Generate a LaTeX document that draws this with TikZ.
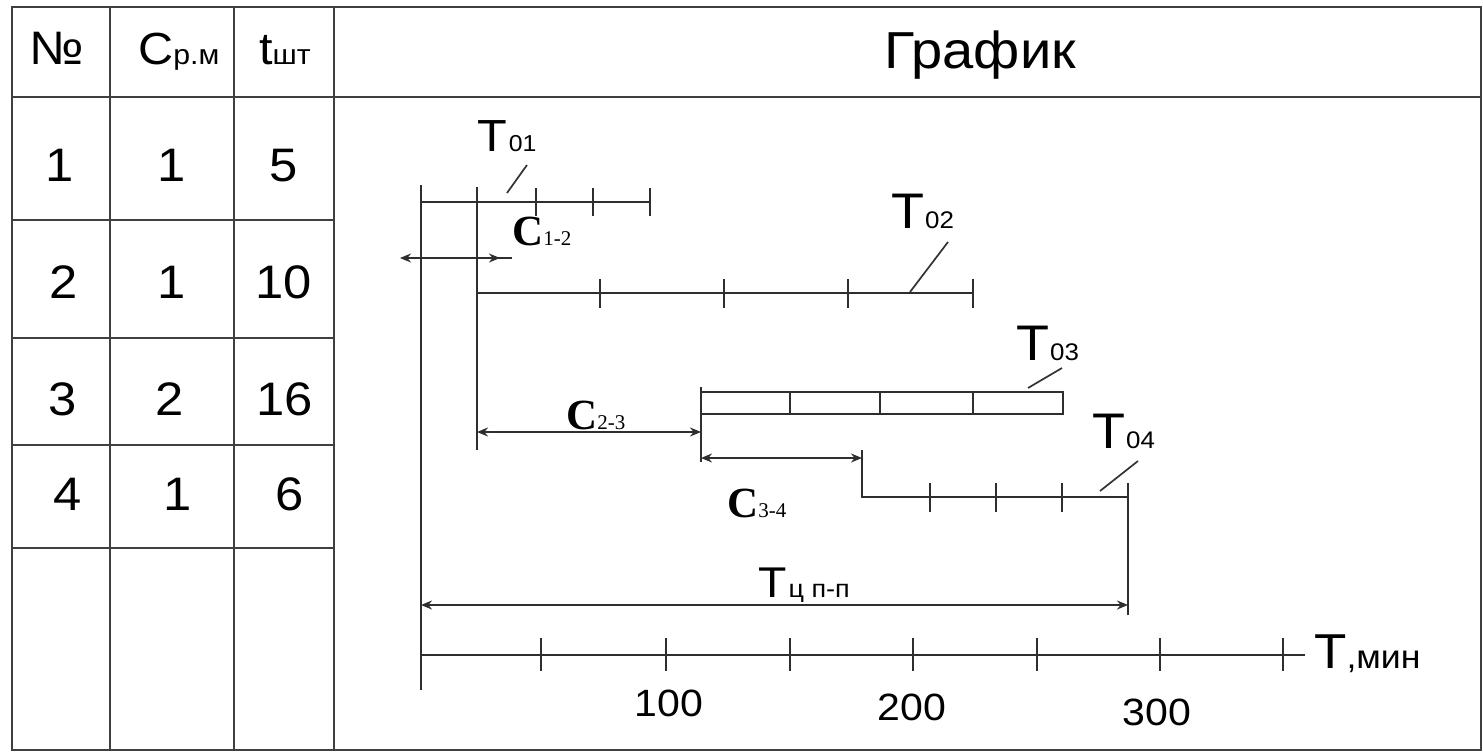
\documentclass[tikz,border=0pt]{standalone}
\usepackage{fontspec}
\setmainfont{Liberation Sans}[FakeStretch=1.08]
\newfontfamily\serifC{Liberation Serif}
\usetikzlibrary{arrows.meta}
\newcommand\fsz[1]{\fontsize{#1}{#1}\selectfont}
\begin{document}
\begin{tikzpicture}[x=1pt,y=-1pt,
  >={Stealth[length=11pt,width=9pt]},
  tbl/.style={draw=black!75,line width=2.6pt},
  ln/.style={draw=black!82,line width=2.2pt},
  tk/.style={draw=black!82,line width=2pt},
  dim/.style={ln,<->},
  lead/.style={draw=black!80,line width=1.7pt},
  cell/.style={inner sep=0pt,anchor=base,font=\fsz{47}},
  tl/.style={inner sep=0pt,anchor=base west,font=\fsz{50}},
  cl/.style={inner sep=0pt,anchor=base west,font=\serifC\bfseries\fsz{43}},
  num/.style={inner sep=0pt,anchor=base,font=\fsz{38}},
]
\useasboundingbox (0,0) rectangle (1483,752);
\fill[white] (0,0) rectangle (1483,752);
% ---------- table ----------
\draw[tbl] (12,7) rectangle (1481,750);
\draw[tbl] (12,97) -- (1481,97);
\foreach \yy in {220,338,445,548} \draw[tbl] (12,\yy) -- (334,\yy);
\foreach \xx in {110,234,334} \draw[tbl] (\xx,7) -- (\xx,750);
% header
\node[cell] (hno) at (57,65) {№};
\node[inner sep=0pt,anchor=base west,font=\fsz{45}] (hcrm) at (138,65) {C{\fsz{28}р.м}};
\node[inner sep=0pt,anchor=base west,font=\fsz{45}] (htsh) at (259,65) {t{\fsz{28}шт}};
\node[cell,font=\fsz{52}] (hgr) at (980,69) {График};
% rows
\node[cell] (r1a) at (60,181) {1};
\node[cell] (r1b) at (172,181) {1};
\node[cell] (r1c) at (284,181) {5};
\node[cell] (r2a) at (64,298) {2};
\node[cell] (r2b) at (172,298) {1};
\node[cell] (r2c) at (284,298) {10};
\node[cell] (r3a) at (63,415) {3};
\node[cell] (r3b) at (170,415) {2};
\node[cell] (r3c) at (285,415) {16};
\node[cell] (r4a) at (68,510) {4};
\node[cell] (r4b) at (178,510) {1};
\node[cell] (r4c) at (290,510) {6};
% ---------- chart coordinates ----------
\coordinate (vtop) at (421,185);
\coordinate (vbot) at (421,690);
\coordinate (s2top) at (477,187);
\coordinate (s2bot) at (477,450);
\coordinate (l1a) at (421,202);
\coordinate (l1b) at (650,202);
\coordinate (c12l) at (400,258);
\coordinate (c12r) at (500,258);
\coordinate (c12e) at (512,258);
\coordinate (l2a) at (477,293);
\coordinate (l2b) at (973,293);
\coordinate (r3nw) at (701,392);
\coordinate (r3se) at (1063,414);
\coordinate (s3top) at (701,387);
\coordinate (s3bot) at (701,462);
\coordinate (c23l) at (477,432);
\coordinate (c23r) at (701,432);
\coordinate (c34l) at (701,458);
\coordinate (c34r) at (862,458);
\coordinate (s4top) at (862,450);
\coordinate (l4a) at (862,497);
\coordinate (l4b) at (1128,497);
\coordinate (e4top) at (1128,483);
\coordinate (e4bot) at (1128,615);
\coordinate (tcl) at (421,605);
\coordinate (tcr) at (1128,605);
\coordinate (axa) at (421,655);
\coordinate (axb) at (1305,655);
% ---------- chart lines ----------
\draw[ln] (vtop) -- (vbot);
\draw[ln] (s2top) -- (s2bot);
\draw[ln] (l1a) -- (l1b);
\foreach \xx in {536,593,650} \draw[tk] (\xx,188) -- (\xx,216);
\draw[ln,<-] (c12l) -- (c12e);
\draw[ln,->] (s2top |- c12l) -- (c12r);
\draw[ln] (l2a) -- (l2b);
\foreach \xx in {600,724,848,973} \draw[tk] (\xx,279) -- (\xx,308);
\draw[ln] (r3nw) rectangle (r3se);
\foreach \xx in {790,880,973} \draw[tk] (\xx,392) -- (\xx,414);
\draw[ln,line width=2.8pt] (s3top) -- (s3bot);
\draw[dim] (c23l) -- (c23r);
\draw[dim] (c34l) -- (c34r);
\draw[ln] (s4top) -- (l4a) -- (l4b);
\foreach \xx in {930,996,1062} \draw[tk] (\xx,483) -- (\xx,512);
\draw[ln] (e4top) -- (e4bot);
\draw[dim] (tcl) -- (tcr);
\draw[ln] (axa) -- (axb);
\foreach \xx in {541,666,790,913,1037,1160,1283} \draw[tk] (\xx,638) -- (\xx,671);
% ---------- labels ----------
\node[tl,font=\fsz{45}] (t01) at (477,151) {T\hspace{2pt}{\fsz{23}01}};
\draw[lead] (507,193) -- (527,165);
\node[tl] (t02) at (891,228) {T\hspace{1pt}{\fsz{24}02}};
\draw[lead] (910,292) -- (948,242);
\node[tl] (t03) at (1016,360) {T\hspace{1pt}{\fsz{24}03}};
\draw[lead] (1028,388) -- (1062,368);
\node[tl] (t04) at (1092,448) {T\hspace{1pt}{\fsz{24}04}};
\draw[lead] (1100,491) -- (1138,461);
\node[cl] (c12) at (512,245) {C{\mdseries\fsz{21}1-2}};
\node[cl] (c23) at (566,429) {C{\mdseries\fsz{21}2-3}};
\node[cl] (c34) at (727,517) {C{\mdseries\fsz{21}3-4}};
\node[tl,font=\fsz{43}] (tc) at (758,597) {T\hspace{2pt}{\fsz{25}ц п-п}};
\node[num] (n100) at (669,716) {100};
\node[num] (n200) at (912,720) {200};
\node[num] (n300) at (1157,725) {300};
\node[tl,font=\fsz{49}] (tmin) at (1314,668) {T{\fsz{33},мин}};
\end{tikzpicture}
\end{document}
